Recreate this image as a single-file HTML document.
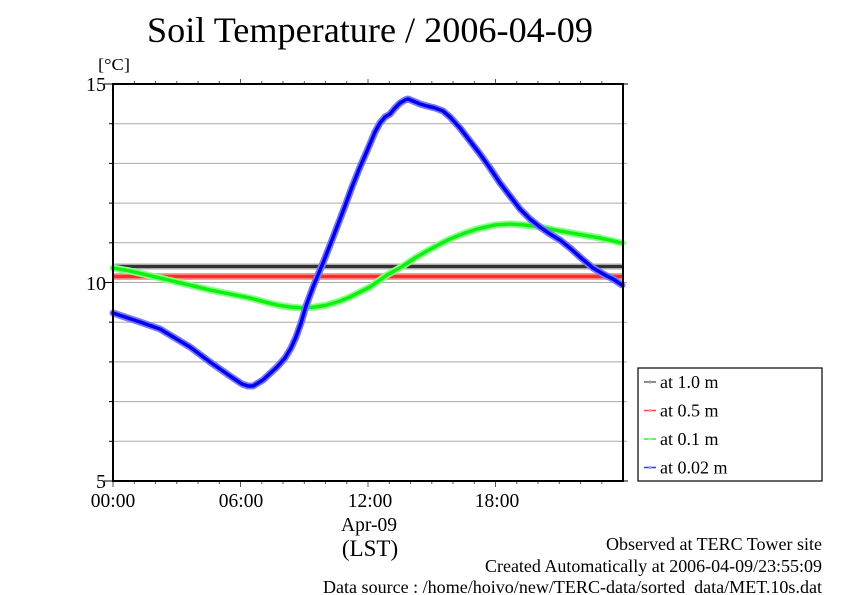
<!DOCTYPE html>
<html>
<head>
<meta charset="utf-8">
<style>
html,body{margin:0;padding:0;background:#fff;}
svg{display:block;}
text{font-family:"Liberation Serif","DejaVu Serif",serif;fill:#000;}
</style>
</head>
<body>
<svg width="842" height="595" viewBox="0 0 842 595" xmlns="http://www.w3.org/2000/svg">
<rect x="0" y="0" width="842" height="595" fill="#fff"/>

<!-- Title -->
<text x="147" y="42" font-size="36" textLength="446" lengthAdjust="spacingAndGlyphs">Soil Temperature / 2006-04-09</text>
<text x="98" y="70" font-size="17" textLength="32" lengthAdjust="spacingAndGlyphs">[°C]</text>

<!-- grid lines -->
<g stroke="#aaaaaa" stroke-width="1">
<line x1="113" y1="123.7" x2="627" y2="123.7"/>
<line x1="113" y1="163.4" x2="627" y2="163.4"/>
<line x1="113" y1="203.1" x2="627" y2="203.1"/>
<line x1="113" y1="242.8" x2="627" y2="242.8"/>
<line x1="113" y1="282.5" x2="627" y2="282.5"/>
<line x1="113" y1="322.2" x2="627" y2="322.2"/>
<line x1="113" y1="361.9" x2="627" y2="361.9"/>
<line x1="113" y1="401.6" x2="627" y2="401.6"/>
<line x1="113" y1="441.3" x2="627" y2="441.3"/>
</g>

<!-- left ticks -->
<g stroke="#000" stroke-width="1">
<line x1="104" y1="84" x2="113" y2="84"/>
<line x1="109" y1="123.7" x2="113" y2="123.7"/>
<line x1="109" y1="163.4" x2="113" y2="163.4"/>
<line x1="109" y1="203.1" x2="113" y2="203.1"/>
<line x1="109" y1="242.8" x2="113" y2="242.8"/>
<line x1="104" y1="282.5" x2="113" y2="282.5"/>
<line x1="109" y1="322.2" x2="113" y2="322.2"/>
<line x1="109" y1="361.9" x2="113" y2="361.9"/>
<line x1="109" y1="401.6" x2="113" y2="401.6"/>
<line x1="109" y1="441.3" x2="113" y2="441.3"/>
<line x1="104" y1="481" x2="113" y2="481"/>
<line x1="623" y1="84" x2="628" y2="84"/>
<line x1="623" y1="481" x2="628" y2="481"/>
</g>

<!-- top & bottom ticks -->
<g stroke="#555" stroke-width="1">
<line x1="134.3" y1="84" x2="134.3" y2="81"/><line x1="155.5" y1="84" x2="155.5" y2="81"/><line x1="176.8" y1="84" x2="176.8" y2="81"/><line x1="198" y1="84" x2="198" y2="81"/><line x1="219.3" y1="84" x2="219.3" y2="81"/><line x1="240.5" y1="84" x2="240.5" y2="79"/>
<line x1="261.8" y1="84" x2="261.8" y2="81"/><line x1="283" y1="84" x2="283" y2="81"/><line x1="304.3" y1="84" x2="304.3" y2="81"/><line x1="325.5" y1="84" x2="325.5" y2="81"/><line x1="346.8" y1="84" x2="346.8" y2="81"/><line x1="368" y1="84" x2="368" y2="79"/>
<line x1="389.3" y1="84" x2="389.3" y2="81"/><line x1="410.5" y1="84" x2="410.5" y2="81"/><line x1="431.8" y1="84" x2="431.8" y2="81"/><line x1="453" y1="84" x2="453" y2="81"/><line x1="474.3" y1="84" x2="474.3" y2="81"/><line x1="495.5" y1="84" x2="495.5" y2="79"/>
<line x1="516.8" y1="84" x2="516.8" y2="81"/><line x1="538" y1="84" x2="538" y2="81"/><line x1="559.3" y1="84" x2="559.3" y2="81"/><line x1="580.5" y1="84" x2="580.5" y2="81"/><line x1="601.8" y1="84" x2="601.8" y2="81"/>

<line x1="113" y1="481" x2="113" y2="487"/>
<line x1="134.3" y1="481" x2="134.3" y2="484"/><line x1="155.5" y1="481" x2="155.5" y2="484"/><line x1="176.8" y1="481" x2="176.8" y2="484"/><line x1="198" y1="481" x2="198" y2="484"/><line x1="219.3" y1="481" x2="219.3" y2="484"/><line x1="240.5" y1="481" x2="240.5" y2="487"/>
<line x1="261.8" y1="481" x2="261.8" y2="484"/><line x1="283" y1="481" x2="283" y2="484"/><line x1="304.3" y1="481" x2="304.3" y2="484"/><line x1="325.5" y1="481" x2="325.5" y2="484"/><line x1="346.8" y1="481" x2="346.8" y2="484"/><line x1="368" y1="481" x2="368" y2="487"/>
<line x1="389.3" y1="481" x2="389.3" y2="484"/><line x1="410.5" y1="481" x2="410.5" y2="484"/><line x1="431.8" y1="481" x2="431.8" y2="484"/><line x1="453" y1="481" x2="453" y2="484"/><line x1="474.3" y1="481" x2="474.3" y2="484"/><line x1="495.5" y1="481" x2="495.5" y2="487"/>
<line x1="516.8" y1="481" x2="516.8" y2="484"/><line x1="538" y1="481" x2="538" y2="484"/><line x1="559.3" y1="481" x2="559.3" y2="484"/><line x1="580.5" y1="481" x2="580.5" y2="484"/><line x1="601.8" y1="481" x2="601.8" y2="484"/>
</g>

<!-- series: 1.0 m (black) -->
<line x1="114" y1="266.5" x2="622" y2="266.5" stroke="#aaaaaa" stroke-width="6"/>
<line x1="114" y1="266.5" x2="622" y2="266.5" stroke="#333333" stroke-width="3"/>
<!-- series: 0.5 m (red) -->
<line x1="114" y1="276.5" x2="622" y2="276.5" stroke="#ff9a9a" stroke-width="7"/>
<line x1="114" y1="276.5" x2="622" y2="276.5" stroke="#ff2a2a" stroke-width="3.5"/>

<!-- series: 0.1 m (green) -->
<polyline fill="none" stroke="#88ff88" stroke-width="7" stroke-linejoin="round" stroke-linecap="round"
points="113,268 130,271 160,278 185,284 210,290 230,294 250,298 265,302 277,305 290,307 303,308 315,307 327,305 340,301 350,297 360,292 370,287 387,275 403,266 415,258 427,251 440,244 450,239 465,233 477,229 495,225 510,224 525,225 540,227 560,231 577,234 600,238 622,243"/>
<polyline fill="none" stroke="#10f010" stroke-width="3.5" stroke-linejoin="round" stroke-linecap="round"
points="113,268 130,271 160,278 185,284 210,290 230,294 250,298 265,302 277,305 290,307 303,308 315,307 327,305 340,301 350,297 360,292 370,287 387,275 403,266 415,258 427,251 440,244 450,239 465,233 477,229 495,225 510,224 525,225 540,227 560,231 577,234 600,238 622,243"/>

<!-- series: 0.02 m (blue) -->
<polyline fill="none" stroke="#7777ff" stroke-width="7" stroke-linejoin="round" stroke-linecap="round"
points="113,313 125,317 140,322 160,329 175,338 190,347 210,362 230,376 242,384 248,386 253,386 263,380 277,367 285,358 291,348 296,337 301,323 306,306 313,287 323,263 332,240 345,206 352,187 360,167 367,151 375,132 380,123 385,117 390,114 395,108 400,103 405,100 408,99 413,101 420,104 427,106 435,108 443,111 450,117 460,128 470,141 480,154 490,168 500,183 510,196 520,209 530,219 540,227 550,234 560,240 570,248 580,257 593,268 605,275 613,279 622,285"/>
<polyline fill="none" stroke="#0000ee" stroke-width="3.5" stroke-linejoin="round" stroke-linecap="round"
points="113,313 125,317 140,322 160,329 175,338 190,347 210,362 230,376 242,384 248,386 253,386 263,380 277,367 285,358 291,348 296,337 301,323 306,306 313,287 323,263 332,240 345,206 352,187 360,167 367,151 375,132 380,123 385,117 390,114 395,108 400,103 405,100 408,99 413,101 420,104 427,106 435,108 443,111 450,117 460,128 470,141 480,154 490,168 500,183 510,196 520,209 530,219 540,227 550,234 560,240 570,248 580,257 593,268 605,275 613,279 622,285"/>

<!-- frame -->
<rect x="113" y="84" width="510" height="397" fill="none" stroke="#000" stroke-width="2"/>

<!-- y labels -->
<text x="106" y="91" font-size="20" text-anchor="end">15</text>
<text x="106" y="290" font-size="20" text-anchor="end">10</text>
<text x="106" y="488" font-size="20" text-anchor="end">5</text>

<!-- x labels -->
<text x="113" y="507" font-size="19.5" text-anchor="middle">00:00</text>
<text x="241" y="507" font-size="19.5" text-anchor="middle">06:00</text>
<text x="370" y="507" font-size="19.5" text-anchor="middle">12:00</text>
<text x="497" y="507" font-size="19.5" text-anchor="middle">18:00</text>
<text x="369" y="531" font-size="19.5" text-anchor="middle">Apr-09</text>
<text x="370" y="556" font-size="23" text-anchor="middle">(LST)</text>

<!-- legend -->
<rect x="638" y="368" width="184" height="113" fill="#fff" stroke="#000" stroke-width="1.2"/>
<g stroke-width="1.5">
<line x1="644" y1="382" x2="656" y2="382" stroke="#666"/>
<line x1="644" y1="410.5" x2="656" y2="410.5" stroke="#ff4444"/>
<line x1="644" y1="439" x2="656" y2="439" stroke="#33ee33"/>
<line x1="644" y1="467.5" x2="656" y2="467.5" stroke="#3333ff"/>
</g>
<circle cx="650" cy="382" r="1.5" fill="#999"/>
<circle cx="650" cy="410.5" r="1.5" fill="#ff9999"/>
<circle cx="650" cy="439" r="1.5" fill="#99ff99"/>
<circle cx="650" cy="467.5" r="1.5" fill="#9999ff"/>
<text x="660" y="388" font-size="18">at 1.0 m</text>
<text x="660" y="416.5" font-size="18">at 0.5 m</text>
<text x="660" y="445" font-size="18">at 0.1 m</text>
<text x="660" y="473.5" font-size="18">at 0.02 m</text>

<!-- footer -->
<text x="822" y="550" font-size="17.5" text-anchor="end" textLength="216" lengthAdjust="spacingAndGlyphs">Observed at TERC Tower site</text>
<text x="822" y="572" font-size="17.5" text-anchor="end" textLength="337" lengthAdjust="spacingAndGlyphs">Created Automatically at 2006-04-09/23:55:09</text>
<text x="822" y="593" font-size="17.5" text-anchor="end" textLength="499" lengthAdjust="spacingAndGlyphs" xml:space="preserve">Data source : /home/hoivo/new/TERC-data/sorted  data/MET.10s.dat</text>
</svg>
</body>
</html>
